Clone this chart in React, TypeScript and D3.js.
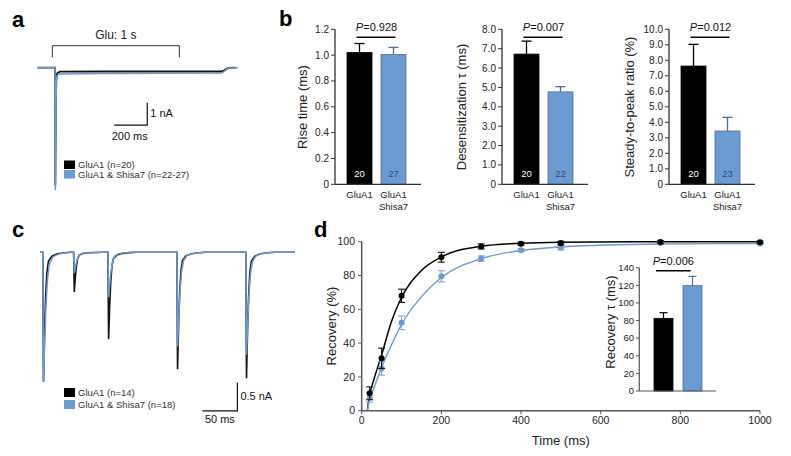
import React from 'react';
import * as d3 from 'd3';

const FONT = "'Liberation Sans', Arial, Helvetica, sans-serif";
const BLUE = '#6b9bd2';
const BLUE_EDGE = '#4e6d94';
const BLUE_ERR = '#7fa6d6';
const AXIS = '#333';

// ---------- Panel a: 1 s glutamate application ----------
const gluWindow = [90, 860]; // ms
const traceA_GluA1: [number, number][] = [
  [0, 0], [106, 0], [108, -5.3], [111, -2.0], [114, -0.55], [119, -0.25], [135, -0.18],
  [400, -0.17], [800, -0.17], [1115, -0.17], [1130, -0.13], [1145, -0.05], [1160, -0.01], [1200, 0],
];
const traceA_Shisa7: [number, number][] = [
  [0, 0], [106, 0], [108, -5.5], [111, -2.2], [114, -0.65], [119, -0.35], [135, -0.28],
  [400, -0.26], [800, -0.25], [1115, -0.24], [1130, -0.18], [1145, -0.08], [1160, -0.02], [1215, 0],
];
const legendA = ['GluA1 (n=20)', 'GluA1 & Shisa7 (n=22-27)'];

// ---------- Panel b: bar charts ----------
const barGroups = ['GluA1', 'GluA1 Shisa7'];
const riseMean = [1.02, 1.005];
const riseErr = [0.07, 0.055];
const riseN = [20, 27];
const riseTicks = [0, 0.2, 0.4, 0.6, 0.8, 1.0, 1.2];
const desMean = [6.72, 4.77];
const desErr = [0.67, 0.27];
const desN = [20, 22];
const desTicks = [0, 1, 2, 3, 4, 5, 6, 7, 8];
const ssMean = [7.63, 3.44];
const ssErr = [1.40, 0.88];
const ssN = [20, 23];
const ssTicks = [0, 1, 2, 3, 4, 5, 6, 7, 8, 9, 10];
const pValuesB = ['0.928', '0.007', '0.012'];
const labelsB = ['Rise time (ms)', 'Desensitization τ (ms)', 'Steady-to-peak ratio (%)'];

// ---------- Panel c: paired-pulse traces ----------
const peakTimesC = [5, 49, 98, 196.5, 295]; // ms
const peakAmpC_GluA1 = [2.31, 0.71, 1.55, 2.09, 2.25]; // nA
const peakAmpC_Shisa7 = [2.31, 0.37, 0.8, 1.68, 1.83]; // nA
const waveC_GluA1: [number, number][] = [
  [-1, 0], [0, 1], [1.5, 0.62], [3, 0.35], [4.8, 0.16], [7, 0.07], [12, 0.03], [20, 0.012], [30, 0.004], [40, 0],
];
const waveC_Shisa7: [number, number][] = [
  [-1, 0], [0, 1], [1.8, 0.68], [3.5, 0.42], [5.8, 0.2], [8.5, 0.09], [13.5, 0.035], [22, 0.012], [32, 0.004], [40, 0],
];
const traceCEnd = 364;
const legendC = ['GluA1 (n=14)', 'GluA1 & Shisa7 (n=18)'];

// ---------- Panel d: recovery ----------
const recTimes = [20, 50, 100, 200, 300, 400, 500, 750, 1000];
const recGluA1 = [10.3, 31, 68, 90.8, 97.2, 98.8, 99.2, 99.8, 99.7];
const recGluA1Err = [3.8, 6, 3.9, 2.9, 1.5, 0.9, 1.0, 0.8, 0.7];
const recShisa7 = [7.9, 25, 52, 79.5, 90, 95, 96.5, 99.2, 98.9];
const recShisa7Err = [2.8, 4, 4, 3.3, 1.6, 0.9, 1.4, 0.8, 0.7];
const fitGluA1: [number, number][] = [
  [14, 0], [20, 9.5], [30, 18], [50, 33], [75, 53], [100, 67], [150, 83], [200, 91], [300, 97.3], [400, 99.1], [500, 99.7], [750, 100], [1000, 100],
];
const fitShisa7: [number, number][] = [
  [14, 0], [20, 6.5], [30, 13], [50, 25.5], [75, 39], [100, 51], [150, 67.5], [200, 78.8], [300, 90], [400, 94.8], [500, 96.9], [750, 98.6], [1000, 98.9],
];
const recXTicks = [0, 200, 400, 600, 800, 1000];
const recYTicks = [0, 20, 40, 60, 80, 100];
const tauMean = [82.5, 119.6];
const tauErr = [6.4, 10.6];
const tauTicks = [0, 20, 40, 60, 80, 100, 120, 140];
const pTau = '0.006';

const fillFor = (i: number) => (i === 0 ? '#000' : BLUE);

function buildTrace(times: number[], amps: number[], wave: [number, number][], end: number): [number, number][] {
  const pts: [number, number][] = [[0, 0]];
  times.forEach((t, k) => {
    wave.forEach(([dt, f]) => pts.push([t + dt, -amps[k] * f]));
  });
  pts.push([end, 0]);
  return pts;
}

function BarChart({ axisX, mean, err, n, ticks, domainMax, label, p, labelX }: any) {
  const y = d3.scaleLinear().domain([0, domainMax]).range([184.3, 29.3]);
  const x = d3.scaleBand<string>().domain(barGroups).range([axisX + 3, axisX + 80]).padding(0.265);
  const bw = x.bandwidth();
  const c0 = (x(barGroups[0]) as number) + bw / 2;
  const c1 = (x(barGroups[1]) as number) + bw / 2;
  return (
    <g fontFamily={FONT}>
      {barGroups.map((g, i) => {
        const bx = x(g) as number;
        const cx = bx + bw / 2;
        const errColor = i === 0 ? '#000' : BLUE_EDGE;
        return (
          <g key={g}>
            <line x1={cx} x2={cx} y1={y(mean[i])} y2={y(mean[i] + err[i])} stroke={errColor} strokeWidth={1.3} />
            <line x1={cx - 5} x2={cx + 5} y1={y(mean[i] + err[i])} y2={y(mean[i] + err[i])} stroke={errColor} strokeWidth={1.3} />
            <rect x={bx} y={y(mean[i])} width={bw} height={y(0) - y(mean[i])} fill={fillFor(i)} stroke={i === 0 ? '#000' : BLUE_EDGE} strokeWidth={0.8} />
            <text x={cx} y={176.5} textAnchor="middle" fontSize={9.5} fill={i === 0 ? '#fff' : '#2c4a72'}>{n[i]}</text>
            {g.split(' ').map((part, j) => (
              <text key={j} x={cx} y={197.5 + j * 12} textAnchor="middle" fontSize={9.5} fill="#222">{part}</text>
            ))}
          </g>
        );
      })}
      <line x1={axisX} x2={axisX + 86} y1={y(0)} y2={y(0)} stroke={AXIS} strokeWidth={1.3} />
      <line x1={axisX} x2={axisX} y1={y(0)} y2={y(domainMax)} stroke={AXIS} strokeWidth={1.3} />
      {ticks.map((t: number) => (
        <g key={t}>
          <line x1={axisX - 4} x2={axisX} y1={y(t)} y2={y(t)} stroke={AXIS} strokeWidth={1} />
          <text x={axisX - 6} y={y(t)} dy="0.35em" textAnchor="end" fontSize={10} fill="#222">
            {t === 0 ? '0' : t.toFixed(1)}
          </text>
        </g>
      ))}
      <line x1={c0 - 3} x2={c1 + 2} y1={37.3} y2={37.3} stroke="#000" strokeWidth={1.5} />
      <text x={(c0 + c1) / 2} y={30.5} textAnchor="middle" fontSize={11} fill="#111">
        <tspan fontStyle="italic">P</tspan>={p}
      </text>
      <text transform={`translate(${labelX},107) rotate(-90)`} textAnchor="middle" dy="0.35em" fontSize={13} fill="#222">{label}</text>
    </g>
  );
}

export default function App() {
  // Panel a scales
  const xA = d3.scaleLinear().domain([0, 1200]).range([37.5, 37.5 + 1200 * 0.165]);
  const yA = d3.scaleLinear().domain([0, -5.5]).range([67.7, 190]);
  const lineA = d3.line<[number, number]>().x((d) => xA(d[0])).y((d) => yA(d[1]));

  // Panel c scales
  const xC = d3.scaleLinear().domain([0, 50]).range([40, 75]);
  const yC = d3.scaleLinear().domain([0, -0.5]).range([252.3, 280.3]);
  const lineC = d3.line<[number, number]>().x((d) => xC(d[0])).y((d) => yC(d[1]));
  const traceC_GluA1 = buildTrace(peakTimesC, peakAmpC_GluA1, waveC_GluA1, traceCEnd);
  const traceC_Shisa7 = buildTrace(peakTimesC, peakAmpC_Shisa7, waveC_Shisa7, traceCEnd);

  // Panel d scales
  const xD = d3.scaleLinear().domain([0, 1000]).range([361.7, 760]);
  const yD = d3.scaleLinear().domain([0, 100]).range([410.7, 241.7]);
  const fitLine = d3.line<[number, number]>().x((d) => xD(d[0])).y((d) => yD(d[1])).curve(d3.curveMonotoneX);

  // Inset
  const yI = d3.scaleLinear().domain([0, 140]).range([391, 267.7]);
  const xI = d3.scaleBand<string>().domain(barGroups).range([644, 712]).padding(0.345);
  const ibw = xI.bandwidth();

  const DAXIS = '#555';

  const scaleBarA = { t: 665, i: -2.58 };
  const scaleBarC = { t: 282, i: -2.83 };

  return (
    <svg width={791} height={456} style={{ position: 'absolute', left: 0, top: 0, background: '#fff' }} fontFamily={FONT}>
      <rect width={791} height={456} fill="#fff" />
      {/* panel letters */}
      <text x={12} y={27} fontSize={22} fontWeight="bold">a</text>
      <text x={279} y={26} fontSize={22} fontWeight="bold">b</text>
      <text x={12} y={237} fontSize={22} fontWeight="bold">c</text>
      <text x={314} y={237} fontSize={22} fontWeight="bold">d</text>

      {/* ---- Panel a ---- */}
      <g>
        <path d={`M${xA(gluWindow[0])},57.3V45.7H${xA(gluWindow[1])}V57.3`} fill="none" stroke="#333" strokeWidth={1} />
        <text x={(xA(gluWindow[0]) + xA(gluWindow[1])) / 2} y={39} textAnchor="middle" fontSize={12} fill="#222">Glu: 1 s</text>
        <path d={lineA(traceA_GluA1) as string} fill="none" stroke="#111" strokeWidth={1.8} />
        <path d={lineA(traceA_Shisa7) as string} fill="none" stroke={BLUE} strokeWidth={1.6} />
        <path
          d={`M${xA(scaleBarA.t)},${yA(scaleBarA.i + 1)}V${yA(scaleBarA.i)}H${xA(scaleBarA.t - 200)}`}
          fill="none" stroke="#111" strokeWidth={1.2}
        />
        <text x={xA(scaleBarA.t) + 3} y={(yA(scaleBarA.i + 1) + yA(scaleBarA.i)) / 2 + 3} fontSize={11} fill="#111">1 nA</text>
        <text x={xA(scaleBarA.t - 100) - 1} y={140} textAnchor="middle" fontSize={11} fill="#111">200 ms</text>
        {legendA.map((l, i) => (
          <g key={l}>
            <rect x={64} y={160.5 + i * 9.5} width={11} height={8.5} fill={fillFor(i)} />
            <text x={78} y={168 + i * 9.5} fontSize={9.5} fill="#333">{l}</text>
          </g>
        ))}
      </g>

      {/* ---- Panel b ---- */}
      <BarChart axisX={335} mean={riseMean} err={riseErr} n={riseN} ticks={riseTicks} domainMax={1.2} label={labelsB[0]} p={pValuesB[0]} labelX={302.7} />
      <BarChart axisX={502} mean={desMean} err={desErr} n={desN} ticks={desTicks} domainMax={8} label={labelsB[1]} p={pValuesB[1]} labelX={461.7} />
      <BarChart axisX={669} mean={ssMean} err={ssErr} n={ssN} ticks={ssTicks} domainMax={10} label={labelsB[2]} p={pValuesB[2]} labelX={629} />

      {/* ---- Panel c ---- */}
      <g>
        <path d={lineC(traceC_GluA1) as string} fill="none" stroke="#111" strokeWidth={1.6} />
        <path d={lineC(traceC_Shisa7) as string} fill="none" stroke={BLUE} strokeWidth={1.5} />
        <path
          d={`M${xC(scaleBarC.t)},${yC(scaleBarC.i + 0.5)}V${yC(scaleBarC.i)}H${xC(scaleBarC.t - 50)}`}
          fill="none" stroke="#111" strokeWidth={1.2}
        />
        <text x={xC(scaleBarC.t) + 3} y={(yC(scaleBarC.i + 0.5) + yC(scaleBarC.i)) / 2 + 3} fontSize={11} fill="#111">0.5 nA</text>
        <text x={xC(scaleBarC.t - 25)} y={423} textAnchor="middle" fontSize={11} fill="#111">50 ms</text>
        {legendC.map((l, i) => (
          <g key={l}>
            <rect x={64} y={388 + i * 12} width={11} height={9} fill={fillFor(i)} />
            <text x={78} y={396 + i * 12} fontSize={9.5} fill="#333">{l}</text>
          </g>
        ))}
      </g>

      {/* ---- Panel d ---- */}
      <g>
        <path d={fitLine(fitGluA1) as string} fill="none" stroke="#000" strokeWidth={1.5} />
        <path d={fitLine(fitShisa7) as string} fill="none" stroke={BLUE} strokeWidth={1.4} />
        {recTimes.map((t, i) => (
          <g key={'s' + t}>
            <line x1={xD(t)} x2={xD(t)} y1={yD(recShisa7[i] - recShisa7Err[i])} y2={yD(recShisa7[i] + recShisa7Err[i])} stroke={BLUE_ERR} strokeWidth={1.1} />
            <line x1={xD(t) - 3.5} x2={xD(t) + 3.5} y1={yD(recShisa7[i] - recShisa7Err[i])} y2={yD(recShisa7[i] - recShisa7Err[i])} stroke={BLUE_ERR} strokeWidth={1.1} />
            <line x1={xD(t) - 3.5} x2={xD(t) + 3.5} y1={yD(recShisa7[i] + recShisa7Err[i])} y2={yD(recShisa7[i] + recShisa7Err[i])} stroke={BLUE_ERR} strokeWidth={1.1} />
            <circle cx={xD(t)} cy={yD(recShisa7[i])} r={3} fill={BLUE} />
          </g>
        ))}
        {recTimes.map((t, i) => (
          <g key={'g' + t}>
            <line x1={xD(t)} x2={xD(t)} y1={yD(recGluA1[i] - recGluA1Err[i])} y2={yD(recGluA1[i] + recGluA1Err[i])} stroke="#111" strokeWidth={1.1} />
            <line x1={xD(t) - 3.5} x2={xD(t) + 3.5} y1={yD(recGluA1[i] - recGluA1Err[i])} y2={yD(recGluA1[i] - recGluA1Err[i])} stroke="#111" strokeWidth={1.1} />
            <line x1={xD(t) - 3.5} x2={xD(t) + 3.5} y1={yD(recGluA1[i] + recGluA1Err[i])} y2={yD(recGluA1[i] + recGluA1Err[i])} stroke="#111" strokeWidth={1.1} />
            <circle cx={xD(t)} cy={yD(recGluA1[i])} r={3} fill="#000" />
          </g>
        ))}
        <line x1={xD(0)} x2={xD(1000)} y1={yD(0)} y2={yD(0)} stroke={DAXIS} strokeWidth={1.5} />
        <line x1={xD(0)} x2={xD(0)} y1={yD(0)} y2={yD(100)} stroke={DAXIS} strokeWidth={1.5} />
        {recXTicks.map((t) => (
          <g key={'xt' + t}>
            <line x1={xD(t)} x2={xD(t)} y1={yD(0)} y2={yD(0) + 3.5} stroke={DAXIS} strokeWidth={1} />
            <text x={xD(t)} y={424} textAnchor="middle" fontSize={10.5} fill="#222">{t}</text>
          </g>
        ))}
        {recYTicks.map((t) => (
          <g key={'yt' + t}>
            <line x1={xD(0) - 3.5} x2={xD(0)} y1={yD(t)} y2={yD(t)} stroke={DAXIS} strokeWidth={1} />
            <text x={355} y={yD(t)} dy="0.35em" textAnchor="end" fontSize={10.5} fill="#222">{t}</text>
          </g>
        ))}
        <text x={(xD(0) + xD(1000)) / 2} y={445} textAnchor="middle" fontSize={13} fill="#222">Time (ms)</text>
        <text transform="translate(331.7,326) rotate(-90)" textAnchor="middle" dy="0.35em" fontSize={13} fill="#222">Recovery (%)</text>

        {/* inset */}
        {barGroups.map((g, i) => {
          const bx = xI(g) as number;
          const cx = bx + ibw / 2;
          const ec = i === 0 ? '#000' : BLUE_EDGE;
          return (
            <g key={'in' + g}>
              <line x1={cx} x2={cx} y1={yI(tauMean[i])} y2={yI(tauMean[i] + tauErr[i])} stroke={ec} strokeWidth={1.2} />
              <line x1={cx - 4} x2={cx + 4} y1={yI(tauMean[i] + tauErr[i])} y2={yI(tauMean[i] + tauErr[i])} stroke={ec} strokeWidth={1.2} />
              <rect x={bx} y={yI(tauMean[i])} width={ibw} height={yI(0) - yI(tauMean[i])} fill={fillFor(i)} stroke={ec} strokeWidth={0.8} />
            </g>
          );
        })}
        <line x1={639.3} x2={716} y1={yI(0)} y2={yI(0)} stroke={DAXIS} strokeWidth={1.2} />
        <line x1={639.3} x2={639.3} y1={yI(0)} y2={yI(140)} stroke={DAXIS} strokeWidth={1.2} />
        {tauTicks.map((t) => (
          <g key={'it' + t}>
            <line x1={636} x2={639.3} y1={yI(t)} y2={yI(t)} stroke={DAXIS} strokeWidth={1} />
            <text x={634} y={yI(t)} dy="0.35em" textAnchor="end" fontSize={9.5} fill="#222">{t}</text>
          </g>
        ))}
        <line x1={656} x2={690.7} y1={270.7} y2={270.7} stroke="#000" strokeWidth={1.5} />
        <text x={673.3} y={265} textAnchor="middle" fontSize={11} fill="#111">
          <tspan fontStyle="italic">P</tspan>={pTau}
        </text>
        <text transform="translate(610,322) rotate(-90)" textAnchor="middle" dy="0.35em" fontSize={13} fill="#222">Recovery τ (ms)</text>
      </g>
    </svg>
  );
}
